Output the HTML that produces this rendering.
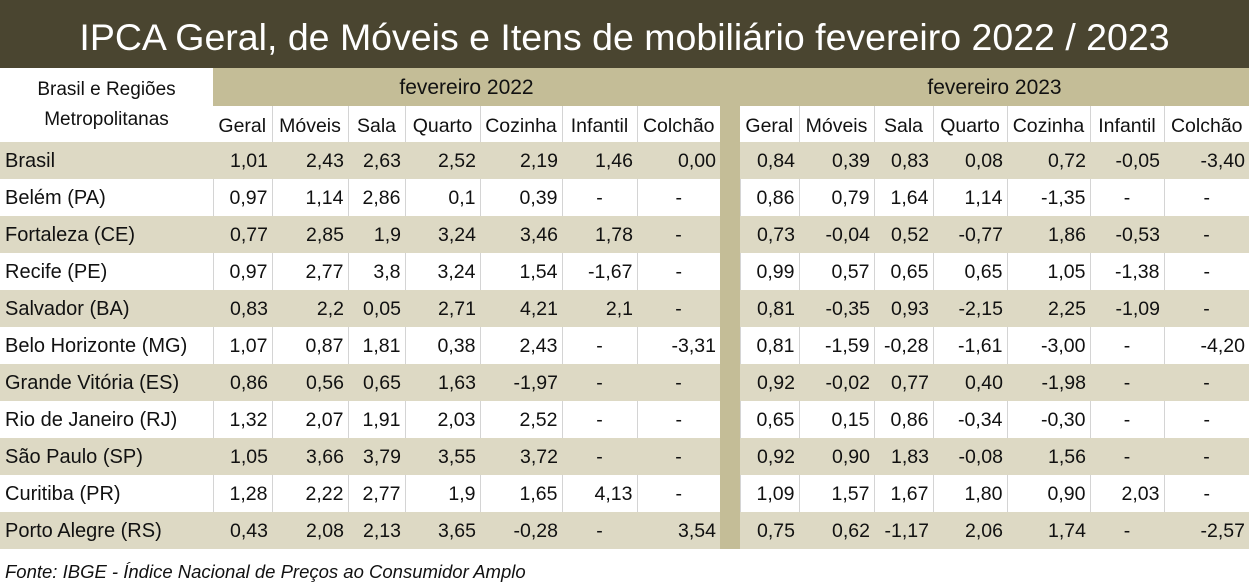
<!DOCTYPE html>
<html><head><meta charset="utf-8">
<style>
*{margin:0;padding:0;box-sizing:border-box}
body{width:1249px;height:584px;background:#fff;font-family:"Liberation Sans",sans-serif;position:relative;overflow:hidden;color:#111}
.title{position:absolute;left:0;top:0;width:1249px;height:68px;background:#4a4530;color:#fff;font-size:37.5px;text-align:center;line-height:74px;letter-spacing:0px}
table{position:absolute;left:0;top:68px;border-collapse:collapse;table-layout:fixed;font-size:19.5px}
td{padding:0 4px;white-space:nowrap;overflow:hidden}
tr.d td{height:37px;text-align:right;padding-top:2px}
tr.d td:first-child{text-align:left;padding-left:5px;font-size:20px}
tr.t td{background:#ddd9c4}
tr.w td{border-left:1px solid #d4d4d4}
tr.w td:first-child{border-left:none}
td.sep{background:#c4bd97 !important;border:none !important;padding:0}
tr.h1 td{height:38px}
tr.h2 td{height:36px;text-align:center;padding:4px 0 0;border-left:1px solid #d4d4d4}
td.band{background:#c4bd97;text-align:center;font-size:21px;padding-top:2px}
td.reg{text-align:center;line-height:30px;font-size:19px;vertical-align:middle}
.foot{position:absolute;left:5px;top:561px;font-size:18.5px;font-style:italic}
</style></head><body>
<div class="title">IPCA Geral, de Móveis e Itens de mobiliário fevereiro 2022 / 2023</div>
<table>
<colgroup><col style="width:213px"><col style="width:59px"><col style="width:76px"><col style="width:57px"><col style="width:75px"><col style="width:82px"><col style="width:75px"><col style="width:83px"><col style="width:20px"><col style="width:59px"><col style="width:75px"><col style="width:59px"><col style="width:74px"><col style="width:83px"><col style="width:74px"><col style="width:85px"></colgroup>
<tr class="h1"><td class="reg" rowspan="2">Brasil e Regiões<br>Metropolitanas</td><td class="band" colspan="7">fevereiro 2022</td><td class="sep"></td><td class="band" colspan="7">fevereiro 2023</td></tr>
<tr class="h2"><td style="border-left:none">Geral</td><td>Móveis</td><td>Sala</td><td>Quarto</td><td>Cozinha</td><td>Infantil</td><td>Colchão</td><td class="sep"></td><td style="border-left:none">Geral</td><td>Móveis</td><td>Sala</td><td>Quarto</td><td>Cozinha</td><td>Infantil</td><td>Colchão</td></tr>
<tr class="d t"><td>Brasil</td><td>1,01</td><td>2,43</td><td>2,63</td><td>2,52</td><td>2,19</td><td>1,46</td><td>0,00</td><td class="sep"></td><td>0,84</td><td>0,39</td><td>0,83</td><td>0,08</td><td>0,72</td><td>-0,05</td><td>-3,40</td></tr>
<tr class="d w"><td>Belém (PA)</td><td>0,97</td><td>1,14</td><td>2,86</td><td>0,1</td><td>0,39</td><td style="text-align:center">-</td><td style="text-align:center">-</td><td class="sep"></td><td>0,86</td><td>0,79</td><td>1,64</td><td>1,14</td><td>-1,35</td><td style="text-align:center">-</td><td style="text-align:center">-</td></tr>
<tr class="d t"><td>Fortaleza (CE)</td><td>0,77</td><td>2,85</td><td>1,9</td><td>3,24</td><td>3,46</td><td>1,78</td><td style="text-align:center">-</td><td class="sep"></td><td>0,73</td><td>-0,04</td><td>0,52</td><td>-0,77</td><td>1,86</td><td>-0,53</td><td style="text-align:center">-</td></tr>
<tr class="d w"><td>Recife (PE)</td><td>0,97</td><td>2,77</td><td>3,8</td><td>3,24</td><td>1,54</td><td>-1,67</td><td style="text-align:center">-</td><td class="sep"></td><td>0,99</td><td>0,57</td><td>0,65</td><td>0,65</td><td>1,05</td><td>-1,38</td><td style="text-align:center">-</td></tr>
<tr class="d t"><td>Salvador (BA)</td><td>0,83</td><td>2,2</td><td>0,05</td><td>2,71</td><td>4,21</td><td>2,1</td><td style="text-align:center">-</td><td class="sep"></td><td>0,81</td><td>-0,35</td><td>0,93</td><td>-2,15</td><td>2,25</td><td>-1,09</td><td style="text-align:center">-</td></tr>
<tr class="d w"><td>Belo Horizonte (MG)</td><td>1,07</td><td>0,87</td><td>1,81</td><td>0,38</td><td>2,43</td><td style="text-align:center">-</td><td>-3,31</td><td class="sep"></td><td>0,81</td><td>-1,59</td><td>-0,28</td><td>-1,61</td><td>-3,00</td><td style="text-align:center">-</td><td>-4,20</td></tr>
<tr class="d t"><td>Grande Vitória (ES)</td><td>0,86</td><td>0,56</td><td>0,65</td><td>1,63</td><td>-1,97</td><td style="text-align:center">-</td><td style="text-align:center">-</td><td class="sep"></td><td>0,92</td><td>-0,02</td><td>0,77</td><td>0,40</td><td>-1,98</td><td style="text-align:center">-</td><td style="text-align:center">-</td></tr>
<tr class="d w"><td>Rio de Janeiro (RJ)</td><td>1,32</td><td>2,07</td><td>1,91</td><td>2,03</td><td>2,52</td><td style="text-align:center">-</td><td style="text-align:center">-</td><td class="sep"></td><td>0,65</td><td>0,15</td><td>0,86</td><td>-0,34</td><td>-0,30</td><td style="text-align:center">-</td><td style="text-align:center">-</td></tr>
<tr class="d t"><td>São Paulo (SP)</td><td>1,05</td><td>3,66</td><td>3,79</td><td>3,55</td><td>3,72</td><td style="text-align:center">-</td><td style="text-align:center">-</td><td class="sep"></td><td>0,92</td><td>0,90</td><td>1,83</td><td>-0,08</td><td>1,56</td><td style="text-align:center">-</td><td style="text-align:center">-</td></tr>
<tr class="d w"><td>Curitiba (PR)</td><td>1,28</td><td>2,22</td><td>2,77</td><td>1,9</td><td>1,65</td><td>4,13</td><td style="text-align:center">-</td><td class="sep"></td><td>1,09</td><td>1,57</td><td>1,67</td><td>1,80</td><td>0,90</td><td>2,03</td><td style="text-align:center">-</td></tr>
<tr class="d t"><td>Porto Alegre (RS)</td><td>0,43</td><td>2,08</td><td>2,13</td><td>3,65</td><td>-0,28</td><td style="text-align:center">-</td><td>3,54</td><td class="sep"></td><td>0,75</td><td>0,62</td><td>-1,17</td><td>2,06</td><td>1,74</td><td style="text-align:center">-</td><td>-2,57</td></tr>
</table>
<div class="foot">Fonte: IBGE - Índice Nacional de Preços ao Consumidor Amplo</div>
</body></html>
